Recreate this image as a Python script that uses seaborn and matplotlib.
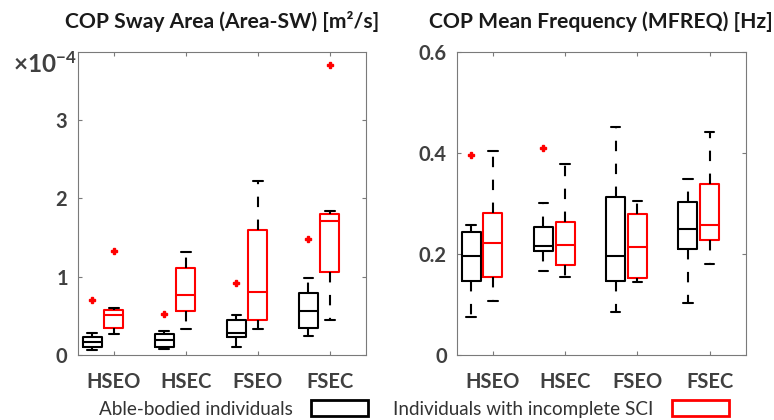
import matplotlib
matplotlib.use("Agg")
import numpy as np
import pandas as pd
import seaborn as sns
import matplotlib.pyplot as plt
from matplotlib.patches import Patch
from matplotlib.ticker import ScalarFormatter, FuncFormatter

# ---------------- data ----------------
conditions = ["HSEO", "HSEC", "FSEO", "FSEC"]
groups = ["Able-bodied individuals", "Individuals with incomplete SCI"]
group_colors = ["black", "red"]

# COP sway area samples, in units of 1e-4 m^2/s (one list per condition)
area_able = [
    [0.064, 0.08, 0.10, 0.13, 0.162, 0.19, 0.226, 0.277, 0.70],
    [0.077, 0.09, 0.106, 0.15, 0.19, 0.23, 0.264, 0.31, 0.523],
    [0.106, 0.17, 0.226, 0.25, 0.277, 0.36, 0.447, 0.51, 0.915],
    [0.242, 0.29, 0.34, 0.45, 0.56, 0.68, 0.787, 0.983, 1.485],
]
area_sci = [
    [0.268, 0.30, 0.34, 0.43, 0.51, 0.55, 0.574, 0.595, 1.33],
    [0.336, 0.45, 0.56, 0.66, 0.76, 0.93, 1.106, 1.20, 1.32],
    [0.328, 0.39, 0.447, 0.62, 0.80, 1.20, 1.60, 1.90, 2.225],
    [0.447, 0.75, 1.063, 1.40, 1.71, 1.76, 1.80, 1.84, 3.70],
]
area_scale = 1e-4

# COP mean frequency samples [Hz]
mfreq_able = [
    [0.076, 0.11, 0.147, 0.17, 0.196, 0.22, 0.243, 0.257, 0.395],
    [0.166, 0.19, 0.206, 0.21, 0.215, 0.235, 0.254, 0.30, 0.41],
    [0.086, 0.12, 0.147, 0.17, 0.196, 0.25, 0.313, 0.38, 0.451],
    [0.103, 0.16, 0.21, 0.23, 0.249, 0.28, 0.303, 0.325, 0.348],
]
mfreq_sci = [
    [0.107, 0.13, 0.155, 0.19, 0.222, 0.25, 0.28, 0.34, 0.403],
    [0.155, 0.165, 0.178, 0.20, 0.217, 0.24, 0.263, 0.32, 0.377],
    [0.145, 0.148, 0.152, 0.18, 0.213, 0.25, 0.278, 0.29, 0.304],
    [0.181, 0.20, 0.227, 0.24, 0.257, 0.30, 0.338, 0.39, 0.441],
]

titles = ["COP Sway Area (Area-SW) [m\u00b2/s]", "COP Mean Frequency (MFREQ) [Hz]"]
area_yticks = [0, 1, 2, 3]
mfreq_yticks = [0, 0.2, 0.4, 0.6]


def long_df(able, sci, scale=1.0):
    rows = []
    for g, series in zip(groups, [able, sci]):
        for c, vals in zip(conditions, series):
            for v in vals:
                rows.append({"condition": c, "group": g, "value": v * scale})
    return pd.DataFrame(rows)


# ---------------- style ----------------
sns.set_theme(style="ticks")
plt.rcParams["font.family"] = ["Lato", "DejaVu Sans"]
plt.rcParams["mathtext.fontset"] = "dejavusans"
plt.rcParams["mathtext.default"] = "regular"
plt.rcParams["axes.unicode_minus"] = False

TICK_COLOR = "#404040"
SPINE_COLOR = "#7a7a7a"

fig = plt.figure(figsize=(7.74, 4.2), dpi=100)
ax1 = fig.add_axes([0.1004, 0.1548, 0.3725, 0.722])
ax2 = fig.add_axes([0.5900, 0.1548, 0.3734, 0.722])

datasets = [long_df(area_able, area_sci, area_scale), long_df(mfreq_able, mfreq_sci)]
width = 0.6
offset = width / 4

for ax, df, title in zip([ax1, ax2], datasets, titles):
    sns.boxplot(
        data=df, x="condition", y="value", hue="group",
        order=conditions, hue_order=groups,
        palette=dict(zip(groups, group_colors)),
        fill=False, width=width, gap=0.12, whis=1.5, linewidth=1.5,
        dodge=True, legend=False, ax=ax,
        whiskerprops=dict(color="black", linestyle=(0, (5, 6))),
        capprops=dict(color="black"),
        flierprops=dict(marker="P", markerfacecolor="red",
                        markeredgecolor="red", markersize=5),
    )
    ax.set_xlabel("")
    ax.set_ylabel("")
    ax.set_xticks(np.arange(len(conditions)) + offset)
    ax.set_xticklabels(conditions)
    ax.set_xlim(-0.5 + offset, len(conditions) - 0.5 + offset)
    for s in ax.spines.values():
        s.set_visible(True)
        s.set_color(SPINE_COLOR)
        s.set_linewidth(0.8)
    ax.tick_params(axis="both", direction="in", length=3, width=0.8,
                   color=SPINE_COLOR, top=True, right=True,
                   labelsize=14.5, labelcolor=TICK_COLOR)
    ax.tick_params(axis="x", pad=12)
    ax.tick_params(axis="y", pad=7)
    ax.set_title(title, fontsize=15.2, fontweight="bold", pad=17, color="#1a1a1a")

# left panel y-axis in scientific notation
ax1.set_ylim(0, 3.87 * area_scale)
ax1.set_yticks([t * area_scale for t in area_yticks])
fmt = ScalarFormatter(useMathText=True)
fmt.set_powerlimits((0, 0))
ax1.yaxis.set_major_formatter(fmt)
ax1.yaxis.OFFSETTEXTPAD = 0
off = ax1.yaxis.get_offset_text()
off.set_fontsize(17.5)
off.set_fontweight("bold")
off.set_color(TICK_COLOR)
off.set_ha("right")
off.set_va("top")
off.set_x(-0.005)

# right panel
ax2.set_ylim(0, 0.6)
ax2.set_yticks(mfreq_yticks)
ax2.yaxis.set_major_formatter(FuncFormatter(lambda v, p: f"{v:g}"))

for ax in (ax1, ax2):
    for lbl in ax.get_xticklabels() + ax.get_yticklabels():
        lbl.set_fontweight("bold")

# legends (handle after text)
for grp, col, xr in zip(groups, group_colors, [0.4755, 0.9420]):
    h = Patch(facecolor="white", edgecolor=col, linewidth=2)
    fig.legend(handles=[h], labels=[grp], loc="center right",
               bbox_to_anchor=(xr, 0.026), frameon=False, markerfirst=False,
               handlelength=3.0, handleheight=0.9, handletextpad=1.0,
               borderpad=0, borderaxespad=0,
               prop={"family": ["Lato", "DejaVu Sans"], "size": 13.6},
               labelcolor="#333333")

fig.savefig("out.png", dpi=100)
